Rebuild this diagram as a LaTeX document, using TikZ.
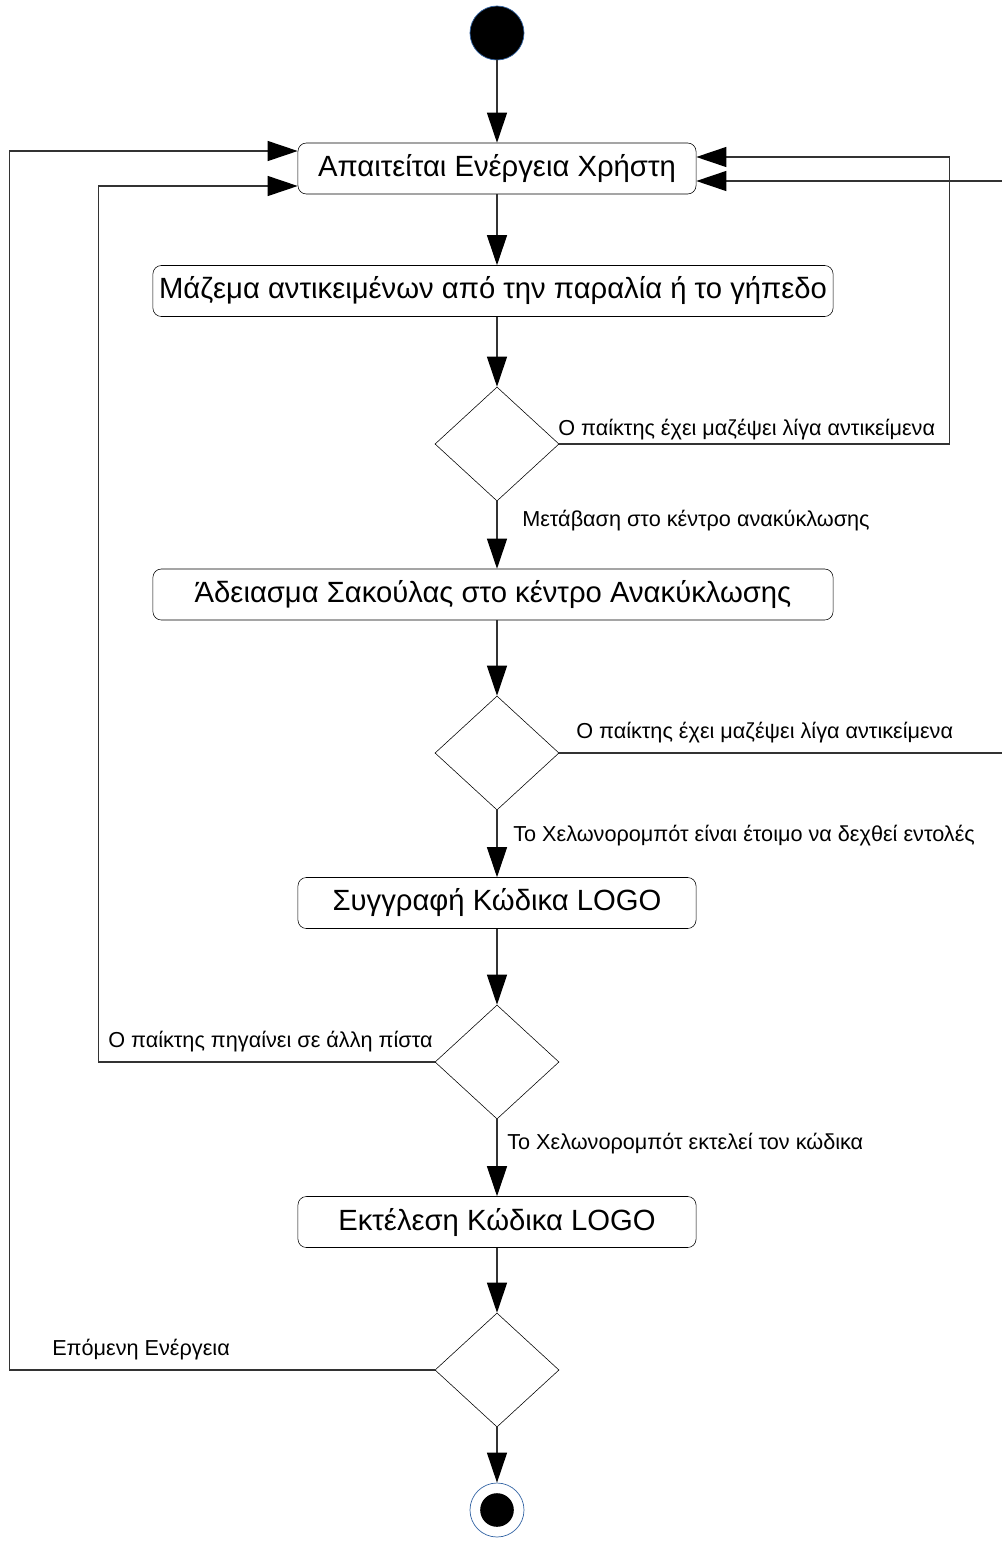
\documentclass[tikz,border=0pt]{standalone}
\usepackage{fontspec}
\setmainfont{Liberation Sans}
\usetikzlibrary{shapes.geometric,arrows.meta}

\definecolor{rimblue}{RGB}{52,101,164}

\tikzset{
	state/.style={draw, rounded corners=6pt, minimum height=1.275cm, minimum width=9.95cm,
		inner sep=0pt, font=\fontsize{20.8}{24}\selectfont},
	widestate/.style={state, minimum width=17cm},
	choice/.style={draw, diamond, minimum width=3.1cm, minimum height=2.85cm, inner sep=0pt},
	guard/.style={anchor=west, inner sep=0pt, font=\fontsize{15.4}{18}\selectfont},
	flow/.style={draw=black!80, line width=0.8pt, -{Triangle[length=0.75cm,width=0.5cm,color=black]}},
	initial/.style={circle, fill=black, draw=rimblue, line width=0.5pt, minimum size=1.35cm, inner sep=0pt},
	final/.style={circle, draw=rimblue, line width=0.5pt, minimum size=1.35cm, inner sep=0pt,
		path picture={\fill[black] (path picture bounding box.center) circle (0.42cm);}}
}

\begin{document}
\begin{tikzpicture}[x=0.025cm, y=-0.025cm]

	\useasboundingbox (0,0) rectangle (1001,1541);

	% activities
	\node[initial] (init) at (497,33) {};
	\node[state] (wait) at (497,168.5) {Απαιτείται Ενέργεια Χρήστη};
	\node[widestate] (collect) at (493,291) {Μάζεμα αντικειμένων από την παραλία ή το γήπεδο};
	\node[choice] (c1) at (497,444) {};
	\node[widestate] (empty) at (493,594.5) {Άδειασμα Σακούλας στο κέντρο Ανακύκλωσης};
	\node[choice] (c2) at (497,753) {};
	\node[state] (code) at (497,903) {Συγγραφή Κώδικα LOGO};
	\node[choice] (c3) at (497,1062) {};
	\node[state] (run) at (497,1222) {Εκτέλεση Κώδικα LOGO};
	\node[choice] (c4) at (497,1370) {};
	\node[final] (stop) at (497,1510) {};

	% guards
	\node[guard] (g1) at (558,430) {Ο παίκτης έχει μαζέψει λίγα αντικείμενα};
	\node[guard] (g2) at (522,521) {Μετάβαση στο κέντρο ανακύκλωσης};
	\node[guard] (g3) at (576,733) {Ο παίκτης έχει μαζέψει λίγα αντικείμενα};
	\node[guard] (g4) at (513,836) {Το Χελωνορομπότ είναι έτοιμο να δεχθεί εντολές};
	\node[guard] (g5) at (108,1042) {Ο παίκτης πηγαίνει σε άλλη πίστα};
	\node[guard] (g6) at (507,1144) {Το Χελωνορομπότ εκτελεί τον κώδικα};
	\node[guard] (g7) at (52,1350) {Επόμενη Ενέργεια};

	% main flow
	\draw[flow] (init) -- (wait);
	\draw[flow] (wait.south) -- (wait.south |- collect.north);
	\draw[flow] (wait.south |- collect.south) -- (c1.north);
	\draw[flow] (c1.south) -- (c1.south |- empty.north);
	\draw[flow] (c1.south |- empty.south) -- (c2.north);
	\draw[flow] (c2) -- (code);
	\draw[flow] (code) -- (c3);
	\draw[flow] (c3) -- (run);
	\draw[flow] (run) -- (c4);
	\draw[flow] (c4) -- (stop);

	% loops back
	\draw[flow] (c1.east) -- ++(390,0) |- (wait.east |- 0,157);
	\draw[flow] (c2.east) -- ++(460,0) |- (wait.east |- 0,181);
	\draw[flow] (c3.west) -- ++(-336,0) |- (wait.west |- 0,186);
	\draw[flow] (c4.west) -- ++(-425,0) |- (wait.west |- 0,151);

\end{tikzpicture}
\end{document}
